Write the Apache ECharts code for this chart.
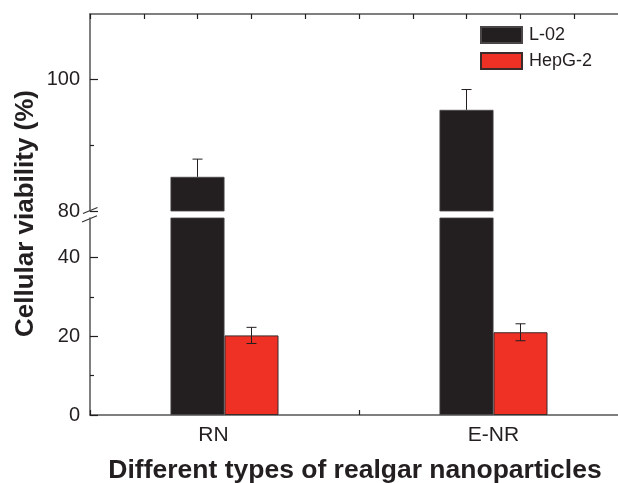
<!DOCTYPE html>
<html><head><meta charset="utf-8">
<script src="https://cdn.jsdelivr.net/npm/echarts@6/dist/echarts.min.js"></script>
<style>html,body{margin:0;padding:0;background:#fff}#c{width:618px;height:483px}</style>
</head><body><div id="c"></div>
<script>
// ---- data ----
const categories = ['RN', 'E-NR'];
const seriesNames = ['L-02', 'HepG-2'];
const l02Values = [85.2, 95.4];
const l02Errors = [2.7, 3.1];
const hepg2Values = [20.2, 21.0];
const hepg2Errors = [2.05, 2.15];
const upperRange = [80, 110];
const lowerRange = [0, 50];
const upperTicks = [80, 100];
const upperMinorTicks = [90];
const lowerTicks = [0, 20, 40];
const lowerMinorTicks = [10, 30];
const topFrameTicks = [0, 1, 2, 3, 4, 5, 6, 7, 8, 9, 10];
const xTitle = 'Different types of realgar nanoparticles';
const yTitle = 'Cellular viability (%)';

// ---- style ----
const FONT = '"Liberation Sans", Arial, Helvetica, sans-serif';
const INK = '#231f20';
const AXIS = '#555555';
const BLACK = '#231f20';
const RED = '#ee3124';
const BAR_W = 54;
const GRID_LEFT = 90, GRID_W = 538;
const labelPads = [[0, 22, 0, 0], [0, 0, 0, 0]];

const chart = echarts.init(document.getElementById('c'), null, {renderer: 'canvas'});

function errRender(sign, both) {
  return function (params, api) {
    const i = api.value(0), v = api.value(1), e = api.value(2);
    const c = api.coord([i, v]);
    const x = c[0] + sign * BAR_W / 2;
    const top = api.coord([i, v + e])[1];
    const bot = both ? api.coord([i, v - e])[1] : c[1];
    const hw = 5;
    const st = {stroke: INK, lineWidth: 1};
    const ch = [
      {type: 'line', shape: {x1: x, y1: top, x2: x, y2: bot}, style: st},
      {type: 'line', shape: {x1: x - hw, y1: top, x2: x + hw, y2: top}, style: st}
    ];
    if (both) ch.push({type: 'line', shape: {x1: x - hw, y1: bot, x2: x + hw, y2: bot}, style: st});
    return {type: 'group', children: ch};
  };
}

const majorY = (gi, range, ticks) => ({
  type: 'value', gridIndex: gi, min: range[0], max: range[1], position: 'left',
  axisLine: {show: true, lineStyle: {color: AXIS, width: 1.5}},
  axisTick: {show: true, inside: true, length: 8, customValues: ticks, lineStyle: {color: INK, width: 1.2}},
  axisLabel: {show: true, customValues: ticks, margin: 10, color: INK, fontSize: 20, fontFamily: FONT},
  splitLine: {show: false}
});
const minorY = (gi, range, ticks) => ({
  type: 'value', gridIndex: gi, min: range[0], max: range[1], position: 'left',
  axisLine: {show: false},
  axisTick: {show: true, inside: true, length: 4, customValues: ticks, lineStyle: {color: INK, width: 1.2}},
  axisLabel: {show: false},
  splitLine: {show: false}
});

const option = {
  animation: false,
  backgroundColor: '#fff',
  textStyle: {fontFamily: FONT},
  grid: [
    {left: GRID_LEFT, width: GRID_W, top: 14, height: 197, containLabel: false, outerBoundsMode: 'none'},
    {left: GRID_LEFT, width: GRID_W, top: 218, height: 197, containLabel: false, outerBoundsMode: 'none'}
  ],
  legend: {
    data: seriesNames, orient: 'vertical', left: 480, top: 26, padding: 0,
    itemWidth: 41, itemHeight: 16, itemGap: 8, icon: 'rect',
    textStyle: {fontSize: 18, color: INK, fontFamily: FONT, lineHeight: 16, padding: [0, 0, 0, 2]}
  },
  xAxis: [
    {type: 'category', gridIndex: 0, data: categories, show: false, axisLine: {onZero: false}},
    {type: 'value', gridIndex: 0, position: 'top', min: 0, max: 10, interval: 1,
     axisLine: {show: true, onZero: false, lineStyle: {color: AXIS, width: 1.5}},
     axisTick: {show: true, inside: true, length: 5, customValues: topFrameTicks, lineStyle: {color: INK, width: 1.2}},
     axisLabel: {show: false}, splitLine: {show: false}},
    {type: 'category', gridIndex: 1, position: 'bottom',
     data: categories.map((c, i) => ({value: c, textStyle: {padding: labelPads[i]}})),
     axisLine: {show: true, onZero: false, lineStyle: {color: AXIS, width: 1.5}},
     axisTick: {show: true, inside: true, length: 5, alignWithLabel: false, lineStyle: {color: INK, width: 1.2}},
     axisLabel: {margin: 10, color: INK, fontSize: 21, fontFamily: FONT}}
  ],
  yAxis: [
    majorY(0, upperRange, upperTicks),
    minorY(0, upperRange, upperMinorTicks),
    majorY(1, lowerRange, lowerTicks),
    minorY(1, lowerRange, lowerMinorTicks)
  ],
  series: [
    {name: seriesNames[0], type: 'bar', xAxisIndex: 0, yAxisIndex: 0, data: l02Values,
     barWidth: BAR_W, barGap: '0%', itemStyle: {color: BLACK, borderColor: '#4a4546', borderWidth: 0.8}},
    {name: seriesNames[1], type: 'bar', xAxisIndex: 0, yAxisIndex: 0, data: hepg2Values,
     barWidth: BAR_W, barGap: '0%', itemStyle: {color: RED, borderColor: '#3b2b2b', borderWidth: 1}},
    {name: seriesNames[0], type: 'bar', xAxisIndex: 2, yAxisIndex: 2, data: l02Values,
     barWidth: BAR_W, barGap: '0%', itemStyle: {color: BLACK, borderColor: '#4a4546', borderWidth: 0.8}},
    {name: seriesNames[1], type: 'bar', xAxisIndex: 2, yAxisIndex: 2, data: hepg2Values,
     barWidth: BAR_W, barGap: '0%', itemStyle: {color: RED, borderColor: '#3b2b2b', borderWidth: 1}},
    {type: 'custom', xAxisIndex: 0, yAxisIndex: 0, clip: true, z: 5,
     renderItem: errRender(-1, false),
     data: l02Values.map((v, i) => [i, v, l02Errors[i]])},
    {type: 'custom', xAxisIndex: 2, yAxisIndex: 2, clip: true, z: 5,
     renderItem: errRender(1, true),
     data: hepg2Values.map((v, i) => [i, v, hepg2Errors[i]])}
  ],
  graphic: [
    {type: 'line', shape: {x1: 83, y1: 213.5, x2: 97.5, y2: 207.5}, style: {stroke: '#333', lineWidth: 1.2}},
    {type: 'line', shape: {x1: 82, y1: 222, x2: 97, y2: 215.8}, style: {stroke: '#333', lineWidth: 1.2}},
    {type: 'text', x: 355, y: 471, style: {text: xTitle, font: 'bold 26.5px ' + FONT, fill: INK, textAlign: 'center', textVerticalAlign: 'middle'}},
    {type: 'text', x: 26, y: 213.5, rotation: Math.PI / 2, style: {text: yTitle, font: 'bold 26px ' + FONT, fill: INK, textAlign: 'center', textVerticalAlign: 'middle'}}
  ]
};
chart.setOption(option);
</script>
</body></html>
